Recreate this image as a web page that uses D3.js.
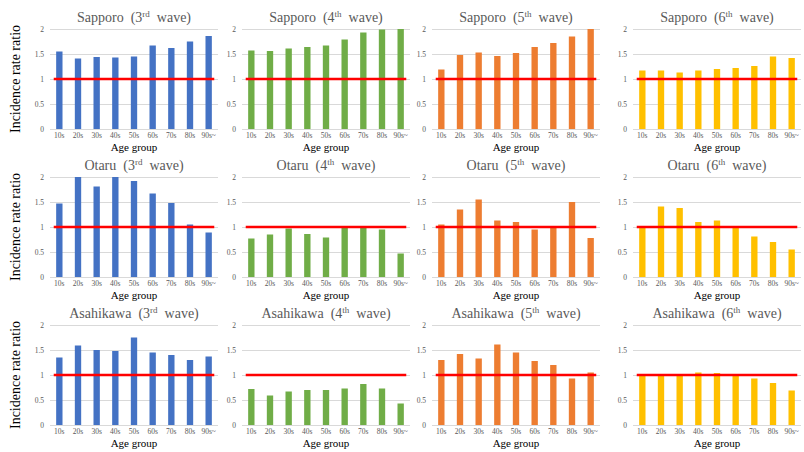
<!DOCTYPE html>
<html>
<head>
<meta charset="utf-8">
<script src="https://cdn.jsdelivr.net/npm/d3@7"></script>
<style>
  body { margin: 0; background: #fff; }
</style>
</head>
<body>
<svg width="804" height="452" font-family="'Liberation Serif', 'Times New Roman', 'DejaVu Serif', serif"></svg>
<script>
// age groups along the x axis
var ages = ["10s", "20s", "30s", "40s", "50s", "60s", "70s", "80s", "90s~"];
var yTicks = [0, 0.5, 1, 1.5, 2];
var cities = ["Sapporo", "Otaru", "Asahikawa"];
var waves = ["3", "4", "5", "6"];
var waveSup = ["rd", "th", "th", "th"];
var waveColors = ["#4472c4", "#70ad47", "#ed7d31", "#ffc000"];
var refValue = 1;

// incidence rate ratio, one array per wave (3rd..6th)
var sapporo = [
  [1.55, 1.41, 1.44, 1.43, 1.45, 1.67, 1.62, 1.75, 1.86],
  [1.57, 1.56, 1.61, 1.64, 1.67, 1.79, 1.93, 1.99, 2.0],
  [1.19, 1.48, 1.53, 1.46, 1.52, 1.64, 1.72, 1.85, 2.0],
  [1.17, 1.17, 1.13, 1.17, 1.2, 1.22, 1.26, 1.45, 1.42]
];
var otaru = [
  [1.47, 2.0, 1.81, 2.0, 1.92, 1.67, 1.48, 1.05, 0.89],
  [0.77, 0.85, 0.97, 0.86, 0.79, 0.98, 1.01, 0.95, 0.47],
  [1.05, 1.35, 1.55, 1.13, 1.1, 0.95, 1.0, 1.5, 0.78],
  [0.98, 1.41, 1.38, 1.1, 1.13, 0.98, 0.81, 0.7, 0.55]
];
var asahikawa = [
  [1.35, 1.59, 1.5, 1.48, 1.75, 1.45, 1.4, 1.3, 1.37],
  [0.72, 0.59, 0.67, 0.7, 0.7, 0.73, 0.82, 0.73, 0.43],
  [1.3, 1.42, 1.33, 1.61, 1.45, 1.28, 1.2, 0.93, 1.05],
  [1.01, 0.98, 0.98, 1.05, 1.04, 0.98, 0.93, 0.84, 0.69]
];
var cityData = [sapporo, otaru, asahikawa];

var svg = d3.select("svg");

// panel placement
var colLeft = [50, 242, 432, 633],
    rowTop = [29, 177, 325],
    pw = 168,
    ph = 100;

var y = d3.scaleLinear().domain([0, 2]).range([ph, 0]);
var x = d3.scaleBand().domain(ages).range([0, pw]).paddingInner(0.66).paddingOuter(0.33);

cities.forEach(function(city, r) {
  waves.forEach(function(w, c) {
    var values = cityData[r][c];
    var g = svg.append("g")
        .attr("transform", "translate(" + colLeft[c] + "," + rowTop[r] + ")");

    // gridlines
    g.selectAll(".grid")
      .data(yTicks)
      .enter().append("line")
        .attr("x1", 0)
        .attr("x2", pw)
        .attr("y1", function(d) { return Math.round(y(d)) + 0.5; })
        .attr("y2", function(d) { return Math.round(y(d)) + 0.5; })
        .attr("stroke", "#d9d9d9")
        .attr("stroke-width", 1);

    // y tick labels
    g.selectAll(".ylab")
      .data(yTicks)
      .enter().append("text")
        .attr("x", -6)
        .attr("y", function(d) { return y(d); })
        .attr("dy", "0.35em")
        .attr("text-anchor", "end")
        .attr("fill", "#595959")
        .attr("font-size", 7.5)
        .text(function(d) { return d; });

    // bars
    g.selectAll(".bar")
      .data(values)
      .enter().append("rect")
        .attr("x", function(d, i) { return x(ages[i]); })
        .attr("y", function(d) { return y(d); })
        .attr("width", x.bandwidth())
        .attr("height", function(d) { return ph - y(d); })
        .attr("fill", waveColors[c]);

    // reference line at 1
    g.append("line")
        .attr("x1", x.step() * 0.2)
        .attr("x2", pw - x.step() * 0.2)
        .attr("y1", y(refValue))
        .attr("y2", y(refValue))
        .attr("stroke", "#ff0000")
        .attr("stroke-width", 2.5);

    // x tick labels
    g.selectAll(".xlab")
      .data(ages)
      .enter().append("text")
        .attr("x", function(d) { return x(d) + x.bandwidth() / 2; })
        .attr("y", ph + 9)
        .attr("text-anchor", "middle")
        .attr("fill", "#595959")
        .attr("font-size", 7.5)
        .text(function(d) { return d; });

    // x axis title
    g.append("text")
        .attr("x", pw / 2)
        .attr("y", ph + 22)
        .attr("text-anchor", "middle")
        .attr("fill", "#000")
        .attr("font-size", 11)
        .text("Age group");

    // panel title with superscript
    var t = g.append("text")
        .attr("x", pw / 2)
        .attr("y", -7)
        .attr("text-anchor", "middle")
        .attr("fill", "#595959")
        .attr("font-size", 14)
        .style("white-space", "pre");
    t.append("tspan").text(city + "  (" + w);
    t.append("tspan")
        .attr("dy", -5)
        .attr("font-size", 9)
        .text(waveSup[c]);
    t.append("tspan")
        .attr("dy", 5)
        .text("  wave)");

    // y axis title on the first column
    if (c === 0) {
      g.append("text")
          .attr("transform", "rotate(-90)")
          .attr("x", -ph / 2)
          .attr("y", -30)
          .attr("text-anchor", "middle")
          .attr("fill", "#000")
          .attr("font-size", 14)
          .text("Incidence rate ratio");
    }
  });
});
</script>
</body>
</html>
